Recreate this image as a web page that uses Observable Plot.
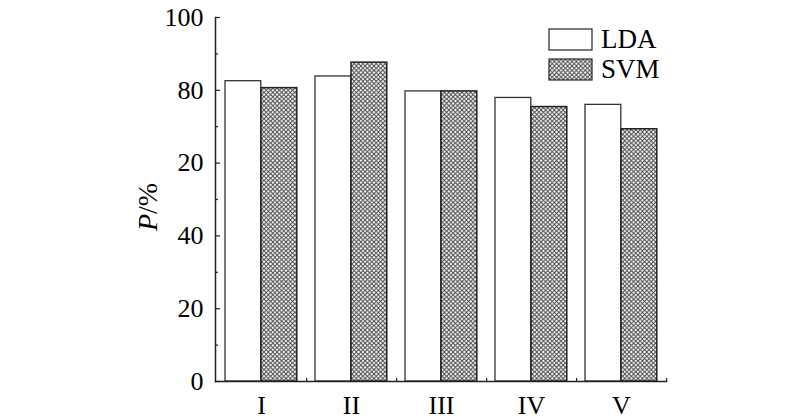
<!DOCTYPE html>
<html>
<head>
<meta charset="utf-8">
<script src="https://cdn.jsdelivr.net/npm/d3@7"></script>
<script src="https://cdn.jsdelivr.net/npm/@observablehq/plot@0.6"></script>
<style>
  html, body { margin: 0; padding: 0; background: #fff; }
  #chart { width: 800px; height: 420px; }
  #chart svg text { font-family: "Liberation Serif", "DejaVu Serif", serif !important; font-size: 26px !important; fill: #000; }
  #chart svg text.ytitle { font-size: 28px !important; }
  #chart svg text.leg { font-size: 27px !important; }
</style>
</head>
<body>
<div id="chart"></div>
<script>
const categories = ["I", "II", "III", "IV", "V"];
const series = ["LDA", "SVM"];
const ldaValues = [82.5, 83.8, 79.7, 77.9, 76.0];
const svmValues = [80.6, 87.6, 79.7, 75.4, 69.3];
const yTicks = [0, 20, 40, 60, 80, 100];
const yTickLabels = ["0", "20", "40", "20", "80", "100"];
const yMinorTicks = [10, 30, 50, 70, 90];
const yLabel = "P/%";

const lda = categories.map((c, i) => ({category: c, series: "LDA", value: ldaValues[i]}));
const svm = categories.map((c, i) => ({category: c, series: "SVM", value: svmValues[i]}));

const font = "Liberation Serif";
const chart = Plot.plot({
  width: 800,
  height: 420,
  marginLeft: 215,
  marginRight: 134,
  marginTop: 17,
  marginBottom: 39,
  style: {fontFamily: font, fontSize: "26px", background: "#fff", color: "#000"},
  x: {domain: categories, padding: 0, label: null},
  y: {domain: [0, 100], label: null},
  marks: [
    Plot.barY(lda, {x: "category", y: "value", fill: "#fff", stroke: "#333", strokeWidth: 1.3, insetLeft: 9, insetRight: 45.2}),
    Plot.barY(svm, {x: "category", y: "value", fill: "url(#xhatch)", stroke: "#222", strokeWidth: 1.5, insetLeft: 45, insetRight: 9.2}),
    Plot.axisY({ticks: yTicks, tickFormat: (d) => yTickLabels[yTicks.indexOf(d)], tickSize: -5, tickPadding: 17, stroke: "#222", strokeWidth: 1.2, label: null}),
    Plot.axisY({ticks: yMinorTicks, tickFormat: () => "", tickSize: -3, stroke: "#222", strokeWidth: 1.2, label: null}),
    Plot.axisX({tickSize: 0, tickPadding: 14, label: null}),
    Plot.axisX({tickFormat: () => "", tickSize: -3, dx: 45.1, stroke: "#222", strokeWidth: 1.2, label: null}),
    Plot.frame({anchor: "left", stroke: "#222", strokeWidth: 1.5}),
    Plot.frame({anchor: "bottom", stroke: "#222", strokeWidth: 1.5})
  ]
});

document.getElementById("chart").appendChild(chart);

const svg = d3.select(chart);
const defs = svg.insert("defs", ":first-child");
const pat = defs.append("pattern")
  .attr("id", "xhatch").attr("patternUnits", "userSpaceOnUse")
  .attr("width", 4.4).attr("height", 4.4);
pat.append("rect").attr("width", 4.4).attr("height", 4.4).attr("fill", "#fff");
pat.append("path").attr("d", "M-1,-1L5.4,5.4M-1,5.4L5.4,-1")
  .attr("stroke", "#3a3a3a").attr("stroke-width", 0.9).attr("fill", "none");

// y-axis title
svg.append("text")
  .attr("class", "ytitle")
  .attr("transform", "translate(157,207) rotate(-90)")
  .attr("text-anchor", "middle")
  .call((t) => {
    t.append("tspan").attr("font-style", "italic").text(yLabel.slice(0, 1));
    t.append("tspan").text(yLabel.slice(1));
  });

// legend
const legend = svg.append("g").attr("text-anchor", "start");
const legendFills = ["#fff", "url(#xhatch)"];
series.forEach((s, i) => {
  const y0 = 29 + i * 30;
  legend.append("rect").attr("x", 549).attr("y", y0).attr("width", 43).attr("height", 21)
    .attr("fill", legendFills[i]).attr("stroke", "#333").attr("stroke-width", 1.3);
  legend.append("text").attr("class", "leg").attr("x", 601).attr("y", y0 + 19)
    .attr("text-anchor", "start").text(s);
});
</script>
</body>
</html>
